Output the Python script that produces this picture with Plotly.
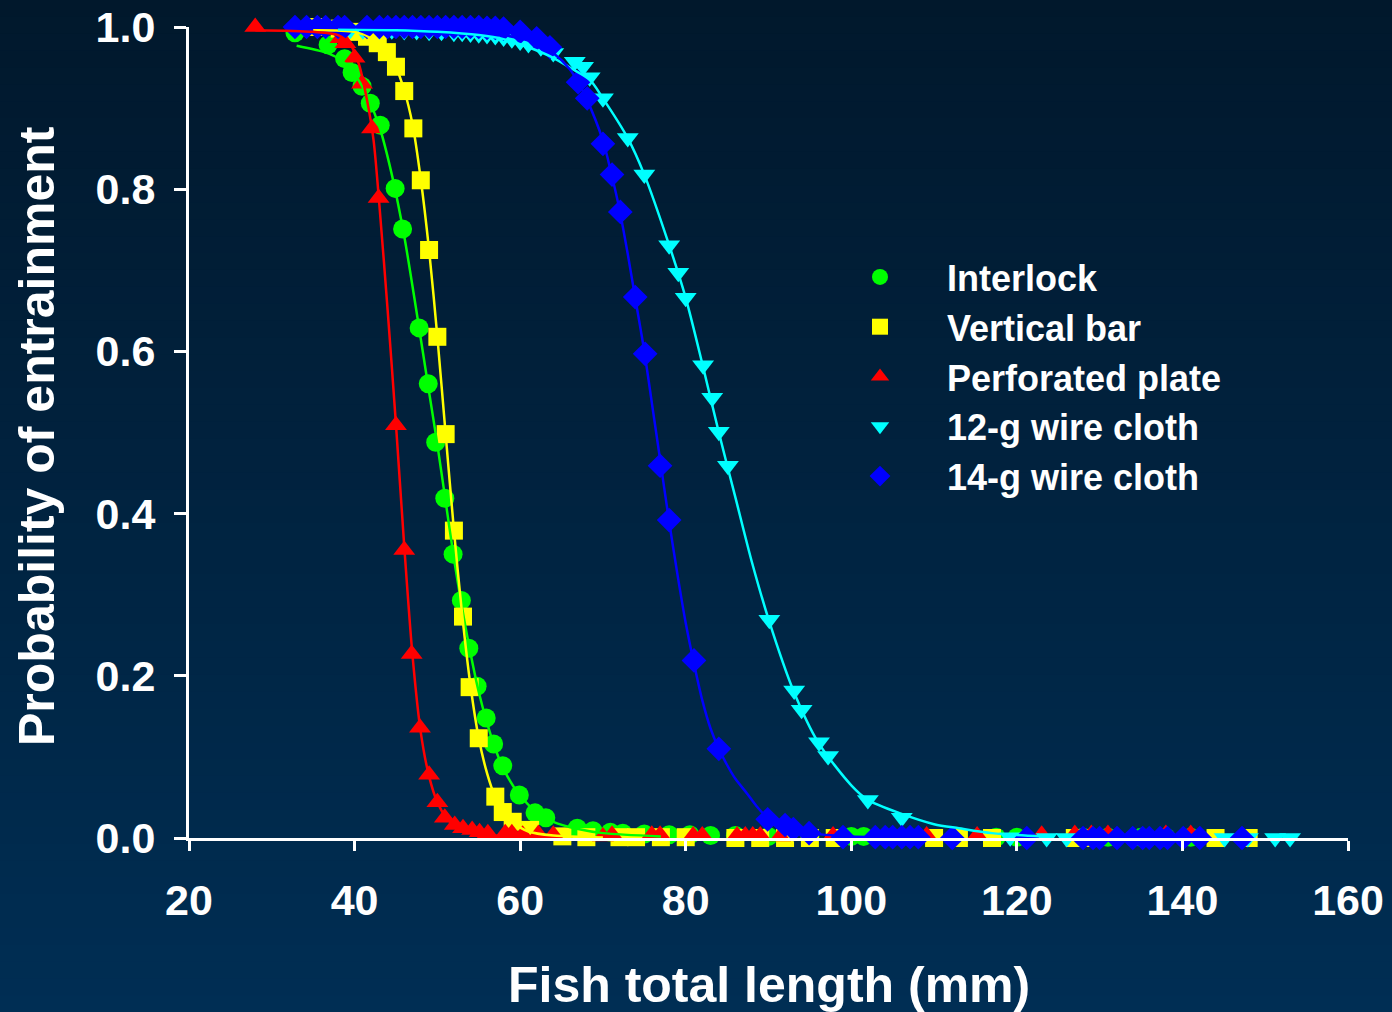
import plotly.graph_objects as go

# ---------------- data ----------------
series_names = ["Interlock", "Vertical bar", "Perforated plate", "12-g wire cloth", "14-g wire cloth"]

interlock_x = [32.8, 36.8, 38.8, 39.7, 40.9, 41.9, 43.1, 44.9, 45.8, 47.8, 48.9, 49.8, 50.9, 51.9, 52.9,
               53.8, 54.8, 55.9, 56.8, 57.9, 59.9, 61.8, 63.1, 66.9, 68.8, 70.9, 72.4, 75.0, 78.0, 80.5,
               83.0, 86.0, 90.0, 95.0, 100.0, 101.5, 117.5, 120.0, 128.0, 131.0, 135.0, 138.0, 141.0]
interlock_p = [0.993, 0.978, 0.961, 0.944, 0.927, 0.906, 0.879, 0.801, 0.751, 0.629, 0.560, 0.488, 0.419, 0.350, 0.293,
               0.234, 0.187, 0.148, 0.116, 0.089, 0.053, 0.031, 0.025, 0.012, 0.009, 0.007, 0.006, 0.005, 0.004, 0.004,
               0.003, 0.003, 0.002, 0.002, 0.002, 0.002, 0.001, 0.001, 0.001, 0.001, 0.001, 0.001, 0.001]

vertical_x = [35.2, 38.2, 40.3, 41.5, 42.8, 43.9, 45.0, 46.0, 47.1, 48.0, 49.0, 50.0, 51.0, 52.0, 53.1,
              53.9, 55.0, 57.0, 57.9, 59.1, 61.2, 65.1, 68.0, 72.0, 74.0, 77.0, 80.0, 86.0, 89.0, 92.0,
              95.0, 98.0, 110.0, 113.0, 117.0, 127.0, 129.0, 144.0, 148.0]
vertical_p = [1.0, 0.998, 0.994, 0.988, 0.980, 0.969, 0.951, 0.921, 0.875, 0.811, 0.725, 0.618, 0.498, 0.379, 0.273,
              0.186, 0.123, 0.051, 0.032, 0.020, 0.010, 0.002, 0.001, 0.001, 0.001, 0.001, 0.001, 0.0, 0.0, 0.0,
              0.0, 0.0, 0.0, 0.0, 0.0, 0.0, 0.0, 0.0, 0.0]

perforated_x = [28.0, 38.3, 38.9, 40.0, 40.9, 42.1, 42.9, 45.0, 46.0, 46.9, 47.9, 49.0, 50.0, 50.9, 52.1,
                53.1, 54.2, 55.1, 56.1, 58.2, 59.0, 60.3, 62.2, 64.0, 70.0, 71.1, 75.9, 76.9, 80.9, 82.0,
                86.2, 87.2, 88.1, 89.0, 91.4, 97.8, 109.1, 115.2, 123.0, 127.0, 129.0, 131.0, 138.0, 141.0]
perforated_p = [1.0, 0.986, 0.980, 0.962, 0.930, 0.875, 0.789, 0.509, 0.355, 0.227, 0.136, 0.078, 0.044, 0.025, 0.016,
                0.012, 0.010, 0.007, 0.006, 0.006, 0.006, 0.004, 0.005, 0.004, 0.002, 0.004, 0.004, 0.004, 0.003, 0.003,
                0.003, 0.003, 0.003, 0.003, 0.002, 0.003, 0.003, 0.003, 0.004, 0.005, 0.005, 0.005, 0.005, 0.005]

wire12_x = [36.5, 38.0, 39.5, 41.0, 43.0, 44.5, 46.0, 47.5, 49.0, 50.5, 52.0, 53.0, 54.0, 55.0, 56.0,
            57.0, 58.0, 59.0, 60.0, 61.0, 62.5, 64.0, 66.6, 67.6, 68.4, 70.0, 73.0, 75.0, 78.0, 79.1,
            80.0, 82.1, 83.2, 84.0, 85.1, 90.1, 93.1, 94.0, 96.1, 97.2, 102.0, 106.1, 119.2, 123.6, 126.0,
            145.1, 147.9, 151.2, 153.0]
wire12_p = [0.997, 0.997, 0.997, 0.996, 0.996, 0.996, 0.995, 0.995, 0.994, 0.994, 0.993, 0.993, 0.992, 0.991, 0.990,
            0.989, 0.987, 0.985, 0.982, 0.979, 0.975, 0.968, 0.957, 0.951, 0.938, 0.912, 0.863, 0.818, 0.731, 0.697,
            0.666, 0.583, 0.543, 0.501, 0.459, 0.269, 0.182, 0.158, 0.118, 0.101, 0.047, 0.025, 0.001, 0.0, 0.0,
            0.0, 0.0, 0.0, 0.0]

wire14_x = [32.8, 34.2, 35.5, 36.5, 38.0, 38.8, 41.5, 43.0, 44.0, 45.0, 46.0, 47.0, 48.0, 49.0, 50.0,
            51.0, 52.0, 53.0, 54.0, 55.0, 56.0, 57.0, 58.0, 60.0, 62.0, 63.6, 67.0, 68.1, 70.0, 71.1,
            72.1, 73.9, 75.1, 76.9, 78.0, 81.0, 84.0, 89.9, 92.0, 93.0, 94.9, 99.0, 102.9, 104.1, 105.0,
            106.1, 107.1, 108.1, 112.2, 121.2, 128.0, 129.2, 130.0, 132.1, 134.0, 135.2, 136.0, 137.3, 138.2,
            140.1, 142.1, 147.2]
wire14_p = [1.0, 1.0, 1.0, 1.0, 1.0, 1.0, 1.0, 1.0, 1.0, 1.0, 1.0, 1.0, 1.0, 1.0, 1.0,
            1.0, 1.0, 1.0, 1.0, 1.0, 0.999, 0.999, 0.998, 0.994, 0.986, 0.975, 0.932, 0.912, 0.856, 0.818,
            0.772, 0.667, 0.597, 0.459, 0.392, 0.219, 0.110, 0.023, 0.016, 0.011, 0.006, 0.001, 0.001, 0.001, 0.001,
            0.001, 0.001, 0.001, 0.0, 0.0, 0.0, 0.0, 0.0, 0.0, 0.0, 0.0, 0.0, 0.0, 0.0,
            0.0, 0.0, 0.0]

# fitted curves
interlock_fit_x = [33.0, 36.7, 38.5, 40.0, 41.5, 43.0, 44.5, 46.0, 47.5, 49.0, 50.0, 51.0, 52.0, 53.0, 54.0,
                   55.0, 56.0, 57.0, 58.0, 60.0, 62.0, 64.0, 67.0, 70.0, 77.0]
interlock_fit_p = [0.977, 0.968, 0.958, 0.942, 0.915, 0.877, 0.818, 0.742, 0.648, 0.550, 0.485, 0.415, 0.345, 0.283, 0.228,
                   0.180, 0.142, 0.110, 0.085, 0.052, 0.032, 0.020, 0.011, 0.006, 0.002]

vertical_fit_x = [35.0, 40.0, 42.0, 43.5, 45.0, 46.0, 47.0, 48.0, 49.0, 50.0, 51.0, 52.0, 53.0, 54.0, 55.0,
                  56.0, 57.0, 58.0, 59.0, 61.0, 64.0, 70.0]
vertical_fit_p = [0.996, 0.994, 0.986, 0.972, 0.950, 0.922, 0.880, 0.812, 0.725, 0.618, 0.498, 0.380, 0.275, 0.188, 0.123,
                  0.080, 0.050, 0.031, 0.020, 0.008, 0.003, 0.0005]

perforated_fit_x = [28.0, 35.0, 38.0, 39.5, 40.5, 41.5, 42.3, 43.0, 44.0, 45.0, 46.0, 47.0, 48.0, 49.0, 50.0,
                    51.0, 52.0, 54.0, 57.0, 62.0]
perforated_fit_p = [0.996, 0.994, 0.990, 0.978, 0.955, 0.910, 0.860, 0.780, 0.650, 0.510, 0.360, 0.225, 0.130, 0.076, 0.044,
                    0.026, 0.016, 0.007, 0.003, 0.001]

wire12_fit_x = [38.0, 45.0, 50.0, 55.0, 58.0, 61.0, 64.0, 66.0, 68.4, 70.0, 73.0, 75.0, 78.0, 80.0, 82.0,
                84.0, 86.0, 88.0, 90.0, 93.0, 96.0, 100.0, 102.0, 106.0, 110.0, 113.0, 117.0, 123.0]
wire12_fit_p = [0.997, 0.996, 0.994, 0.990, 0.985, 0.975, 0.962, 0.950, 0.935, 0.912, 0.863, 0.818, 0.731, 0.666, 0.585,
                0.500, 0.420, 0.340, 0.270, 0.182, 0.118, 0.065, 0.047, 0.030, 0.017, 0.012, 0.006, 0.002]

wire14_fit_x = [33.0, 50.0, 58.0, 62.0, 64.0, 66.0, 67.0, 68.0, 70.0, 71.0, 72.0, 73.0, 74.0, 75.0, 76.0,
                77.0, 78.0, 79.0, 80.0, 81.0, 82.0, 83.0, 84.0, 85.0, 86.0, 87.4, 88.5, 90.0, 92.0, 95.0,
                100.0, 108.0]
wire14_fit_p = [1.0, 0.998, 0.990, 0.980, 0.968, 0.948, 0.932, 0.912, 0.860, 0.820, 0.775, 0.720, 0.660, 0.600, 0.530,
                0.460, 0.390, 0.325, 0.265, 0.215, 0.170, 0.135, 0.110, 0.090, 0.073, 0.055, 0.040, 0.024, 0.014, 0.006,
                0.002, 0.0005]

x_ticks = [20, 40, 60, 80, 100, 120, 140, 160]
y_ticks = [0.0, 0.2, 0.4, 0.6, 0.8, 1.0]

# ---------------- styling ----------------
colors = ["#00ff00", "#ffff00", "#ff0000", "#00ffff", "#0000ff"]
symbols = ["circle", "square", "triangle-up", "triangle-down", "diamond"]
sizes = [19, 18, 19, 19, 19]
FONT = "Liberation Sans, Arial, Helvetica, sans-serif"

marker_data = [(interlock_x, interlock_p), (vertical_x, vertical_p), (perforated_x, perforated_p),
               (wire12_x, wire12_p), (wire14_x, wire14_p)]
fit_data = [(interlock_fit_x, interlock_fit_p), (vertical_fit_x, vertical_fit_p),
            (perforated_fit_x, perforated_fit_p), (wire12_fit_x, wire12_fit_p), (wire14_fit_x, wire14_fit_p)]

fig = go.Figure()
for name, (xs, ps), c, s, sz in zip(series_names, marker_data, colors, symbols, sizes):
    fig.add_trace(go.Scatter(x=xs, y=ps, mode="markers", name=name,
                             marker=dict(color=c, symbol=s, size=sz, line=dict(width=0)),
                             cliponaxis=False))
for name, (xs, ps), c in zip(series_names, fit_data, colors):
    fig.add_trace(go.Scatter(x=xs, y=ps, mode="lines", name=name + " fit", showlegend=False,
                             line=dict(color=c, width=2.5, shape="spline", smoothing=0.8),
                             cliponaxis=False))

# background gradient (figure-wide bands, behind the plot)
W, H = 1392, 1012
L, R, T, B = 189, 44, 27, 174
pw, ph = W - L - R, H - T - B
top_rgb = (1, 24, 44)
bot_rgb = (0, 46, 84)
n_bands = 60
shapes = []
for i in range(n_bands):
    f = (i + 0.5) / n_bands
    col = tuple(round(top_rgb[k] + (bot_rgb[k] - top_rgb[k]) * f) for k in range(3))
    y_top_px = H * i / n_bands
    y_bot_px = H * (i + 1) / n_bands + 1
    shapes.append(dict(type="rect", xref="paper", yref="paper", layer="below",
                       x0=-L / pw, x1=1 + R / pw,
                       y0=(H - B - y_bot_px) / ph, y1=(H - B - y_top_px) / ph,
                       fillcolor="rgb(%d,%d,%d)" % col, line=dict(width=0)))

axis_common = dict(showgrid=False, zeroline=False, showline=True, linecolor="white", linewidth=3,
                   ticks="outside", tickcolor="white", tickwidth=3, automargin=False,
                   tickfont=dict(family=FONT, size=43, color="white", weight="bold"))

fig.update_layout(
    width=W, height=H,
    margin=dict(l=L, r=R, t=T, b=B, pad=0),
    paper_bgcolor="rgb(1,35,64)",
    plot_bgcolor="rgba(0,0,0,0)",
    shapes=shapes,
    showlegend=True,
    legend=dict(x=(813 - L) / pw, y=(H - B - 247) / ph, xanchor="left", yanchor="top",
                bgcolor="rgba(0,0,0,0)", borderwidth=0, itemwidth=124,
                font=dict(family=FONT, size=36, color="white", weight="bold"),
                tracegroupgap=0),
    xaxis=dict(range=[20, 160], tickvals=x_ticks, ticktext=[str(v) for v in x_ticks],
               ticklen=10, ticklabelstandoff=12, **axis_common),
    yaxis=dict(range=[0, 1], tickvals=y_ticks, ticktext=["%.1f" % v for v in y_ticks],
               ticklen=12, ticklabelstandoff=10, **axis_common),
    annotations=[
        dict(text="Fish total length (mm)", xref="paper", yref="paper", x=0.5, y=(H - B - 985) / ph,
             xanchor="center", yanchor="middle", showarrow=False,
             font=dict(family=FONT, size=50, color="white", weight="bold")),
        dict(text="Probability of entrainment", xref="paper", yref="paper", x=(37 - L) / pw,
             y=(H - B - 436) / ph, xanchor="center", yanchor="middle", textangle=-90, showarrow=False,
             font=dict(family=FONT, size=50, color="white", weight="bold")),
    ],
)

fig.write_html("out.html")
